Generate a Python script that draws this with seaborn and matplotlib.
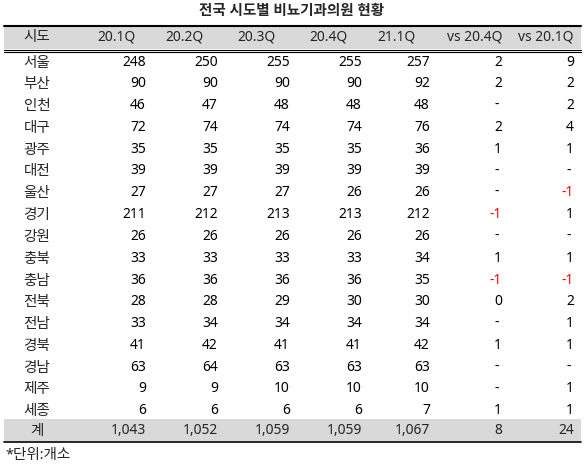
import matplotlib
matplotlib.use("Agg")
import matplotlib.pyplot as plt
import seaborn as sns

# ================================
# Data
# ================================
title = "전국 시도별 비뇨기과의원 현황"
columns = ["시도", "20.1Q", "20.2Q", "20.3Q", "20.4Q", "21.1Q", "vs 20.4Q", "vs 20.1Q"]
regions = ["서울", "부산", "인천", "대구", "광주", "대전", "울산", "경기", "강원",
           "충북", "충남", "전북", "전남", "경북", "경남", "제주", "세종"]
q201 = [248, 90, 46, 72, 35, 39, 27, 211, 26, 33, 36, 28, 33, 41, 63, 9, 6]
q202 = [250, 90, 47, 74, 35, 39, 27, 212, 26, 33, 36, 28, 34, 42, 64, 9, 6]
q203 = [255, 90, 48, 74, 35, 39, 27, 213, 26, 33, 36, 29, 34, 41, 63, 10, 6]
q204 = [255, 90, 48, 74, 35, 39, 26, 213, 26, 33, 36, 30, 34, 41, 63, 10, 6]
q211 = [257, 92, 48, 76, 36, 39, 26, 212, 26, 34, 35, 30, 34, 42, 63, 10, 7]
vs204 = ["2", "2", "-", "2", "1", "-", "-", "-1", "-", "1", "-1", "0", "-", "1", "-", "-", "1"]
vs201 = ["9", "2", "2", "4", "1", "-", "-1", "1", "-", "1", "-1", "2", "1", "1", "-", "1", "1"]
totals = ["1,043", "1,052", "1,059", "1,059", "1,067", "8", "24"]
footnote = "*단위:개소"

# ================================
# Layout (pixel coordinates)
# ================================
sns.set_theme(style="white")
plt.rcParams["font.family"] = ["Noto Sans", "Noto Sans CJK KR", "DejaVu Sans"]

fig = plt.figure(figsize=(5.85, 4.67), dpi=100)
ax = fig.add_axes([0, 0, 1, 1])
ax.set_xlim(0, 585)
ax.set_ylim(467, 0)
ax.axis("off")

gray = "#d9d9d9"
fs = 10
kfs = 10.5
left, right = 4, 581
value_right = [146, 218, 290, 362, 430, 502, 574]
header_x = [116, 185, 257, 328, 397, 475, 546]

ax.text(292, 12, title, ha="center", va="center", fontsize=10.5, fontweight="bold")

# header band
ax.fill_between([left, right], 26, 49, color=gray, lw=0)
ax.plot([left, right], [25.5, 25.5], color="black", lw=1.5)
ax.plot([left, right], [49.5, 49.5], color="black", lw=0.8)
ax.plot([left, right], [52, 52], color="black", lw=0.8)
ax.text(37, 38, columns[0], ha="center", va="center", fontsize=kfs)
for x, c in zip(header_x, columns[1:]):
    ax.text(x, 37, c, ha="center", va="center", fontsize=fs)

# body rows
y0, dy = 62, 21.8
series = [q201, q202, q203, q204, q211]
for i, reg in enumerate(regions):
    y = y0 + i * dy
    ax.text(37, y + 1, reg, ha="center", va="center", fontsize=kfs)
    vals = [str(s[i]) for s in series] + [vs204[i], vs201[i]]
    for x, v in zip(value_right, vals):
        color = "#ff0000" if v.startswith("-") and v != "-" else "black"
        xx = x - 3 if v == "-" else x
        ax.text(xx, y, v, ha="right", va="center", fontsize=fs, color=color)

# total row
ax.fill_between([left, right], 419, 441, color=gray, lw=0)
ax.plot([left, right], [441.5, 441.5], color="black", lw=1.2)
ax.text(37, 431, "계", ha="center", va="center", fontsize=kfs)
for x, v in zip(value_right, totals):
    ax.text(x, 430, v, ha="right", va="center", fontsize=fs)

ax.text(5, 456, footnote, ha="left", va="center", fontsize=kfs)

fig.savefig("out.png", dpi=100)
